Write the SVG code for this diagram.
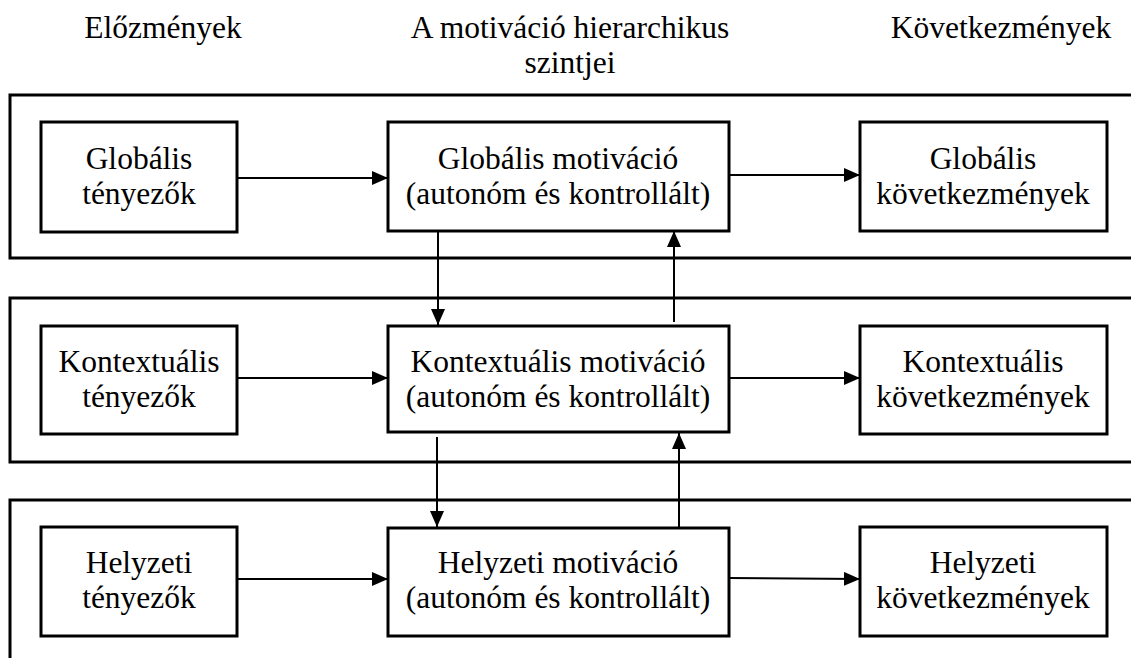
<svg xmlns="http://www.w3.org/2000/svg" width="1131" height="658" viewBox="0 0 1131 658">
<style>
text{font-family:"Liberation Serif","Times New Roman",serif;font-size:31.5px;fill:#000;text-anchor:middle}
.band{fill:none;stroke:#000;stroke-width:3}
.box{fill:#fff;stroke:#000;stroke-width:3}
.conn{stroke:#000;stroke-width:2;fill:none;marker-end:url(#ah)}
</style>
<defs>
<marker id="ah" viewBox="0 0 16 14" refX="16" refY="7" markerWidth="16" markerHeight="14" markerUnits="userSpaceOnUse" orient="auto">
<path d="M0,0 L16,7 L0,14 Z" fill="#000"/>
</marker>
</defs>
<rect width="1131" height="658" fill="#fff"/>
<g id="headers">
<text x="163" y="38">Előzmények</text>
<text x="570" y="38">A motiváció hierarchikus</text>
<text x="570" y="73">szintjei</text>
<text x="1001" y="38">Következmények</text>
</g>
<g id="bands">
<rect class="band" x="10" y="95" width="1140" height="163"/>
<rect class="band" x="10" y="298" width="1140" height="164"/>
<rect class="band" x="10" y="500" width="1140" height="180"/>
</g>
<g id="connectors">
<line class="conn" x1="237" y1="178" x2="388" y2="178"/>
<line class="conn" x1="729" y1="175" x2="860" y2="175"/>
<line class="conn" x1="237" y1="378" x2="388" y2="378"/>
<line class="conn" x1="729" y1="378" x2="860" y2="378"/>
<line class="conn" x1="237" y1="579" x2="388" y2="579"/>
<line class="conn" x1="729" y1="578" x2="860" y2="579"/>
<line class="conn" x1="438" y1="230" x2="438" y2="325"/>
<line class="conn" x1="674" y1="322" x2="674" y2="231"/>
<line class="conn" x1="437" y1="437" x2="437" y2="527"/>
<line class="conn" x1="679" y1="527" x2="679" y2="433"/>
</g>
<g id="global-antecedents">
<rect class="box" x="41" y="122" width="196" height="110"/>
<text x="139" y="169">Globális</text>
<text x="139" y="204">tényezők</text>
</g>
<g id="global-motivation">
<rect class="box" x="388" y="122" width="341" height="109"/>
<text x="558" y="169">Globális motiváció</text>
<text x="558" y="204">(autonóm és kontrollált)</text>
</g>
<g id="global-consequences">
<rect class="box" x="860" y="122" width="247" height="109"/>
<text x="983" y="169">Globális</text>
<text x="983" y="204">következmények</text>
</g>
<g id="contextual-antecedents">
<rect class="box" x="41" y="326" width="196" height="108"/>
<text x="139" y="372">Kontextuális</text>
<text x="139" y="407">tényezők</text>
</g>
<g id="contextual-motivation">
<rect class="box" x="388" y="326" width="341" height="106"/>
<text x="558" y="372">Kontextuális motiváció</text>
<text x="558" y="407">(autonóm és kontrollált)</text>
</g>
<g id="contextual-consequences">
<rect class="box" x="860" y="326" width="247" height="108"/>
<text x="983" y="372">Kontextuális</text>
<text x="983" y="407">következmények</text>
</g>
<g id="situational-antecedents">
<rect class="box" x="41" y="527" width="196" height="109"/>
<text x="139" y="573">Helyzeti</text>
<text x="139" y="608">tényezők</text>
</g>
<g id="situational-motivation">
<rect class="box" x="388" y="528" width="341" height="108"/>
<text x="558" y="573">Helyzeti motiváció</text>
<text x="558" y="608">(autonóm és kontrollált)</text>
</g>
<g id="situational-consequences">
<rect class="box" x="860" y="527" width="247" height="109"/>
<text x="983" y="573">Helyzeti</text>
<text x="983" y="608">következmények</text>
</g>
</svg>
